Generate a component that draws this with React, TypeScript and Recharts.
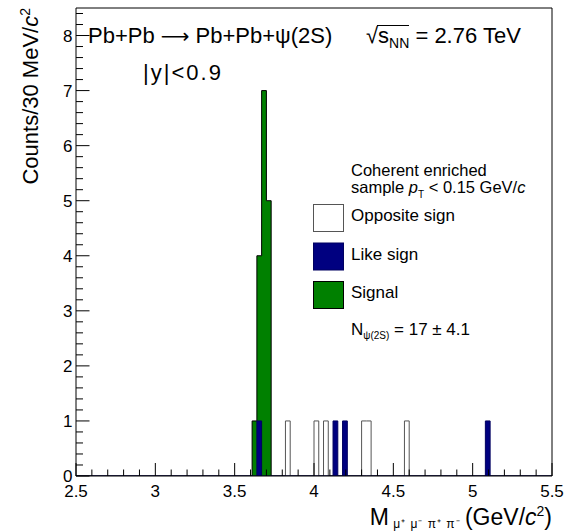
import React from "react";
import { ComposedChart, Area, XAxis, YAxis, ReferenceArea, Legend } from "recharts";

// histogram bins: lower edges (GeV/c^2), 30 MeV wide
const binWidth = 0.03;
const oppositeSignBins = [3.82, 4.0, 4.06, 4.3, 4.33, 4.57];
const oppositeSignCounts = [1, 1, 1, 1, 1, 1];
const likeSignBins = [3.64, 4.12, 4.18, 5.08];
const likeSignCounts = [1, 1, 1, 1];
const signalBins = [3.61, 3.64, 3.67, 3.7];
const signalCounts = [1, 4, 7, 5];

const xMajorTicks = [2.5, 3, 3.5, 4, 4.5, 5, 5.5];
const xTickLabels = ["2.5", "3", "3.5", "4", "4.5", "5", "5.5"];
const yMajorTicks = [0, 1, 2, 3, 4, 5, 6, 7, 8];
const yTickLabels = ["0", "1", "2", "3", "4", "5", "6", "7", "8"];

const X_MIN = 2.5;
const X_MAX = 5.5;
const Y_MAX = 8.5;

const FONT = "'Liberation Sans', Arial, Helvetica, sans-serif";

const round3 = (v: number) => Math.round(v * 1000) / 1000;

function countAt(bins: number[], counts: number[], x: number) {
  for (let i = 0; i < bins.length; i++) {
    const lo = round3(bins[i]);
    const hi = round3(bins[i] + binWidth);
    if (x >= lo - 1e-6 && x < hi - 1e-6) return counts[i];
  }
  return 0;
}

// step data: one point per bin edge, value holds until the next edge
const edgeSet = new Set<number>([X_MIN, X_MAX]);
[...oppositeSignBins, ...likeSignBins, ...signalBins].forEach((b) => {
  edgeSet.add(round3(b));
  edgeSet.add(round3(b + binWidth));
});
const edges = Array.from(edgeSet).sort((a, b) => a - b);
const histData = edges.map((x) => ({
  x,
  os: countAt(oppositeSignBins, oppositeSignCounts, x),
  sig: countAt(signalBins, signalCounts, x),
  ls: countAt(likeSignBins, likeSignCounts, x),
}));

// minor ticks every 0.1 on x, 0.2 on y
const xTicks: number[] = [];
for (let i = 0; i <= 30; i++) xTicks.push(round3(X_MIN + i * 0.1));
const yTicks: number[] = [];
for (let i = 0; i <= 42; i++) yTicks.push(round3(i * 0.2));

const XTick = (props: any) => {
  const { x, y, payload } = props;
  const idx = xMajorTicks.findIndex((t) => Math.abs(t - payload.value) < 1e-6);
  const major = idx >= 0;
  return (
    <g>
      <line x1={x} x2={x} y1={y} y2={y - (major ? 13 : 6.5)} stroke="#000" />
      {major && (
        <text x={x} y={y + 21} textAnchor="middle" fontSize={17} fontFamily={FONT} fill="#000">
          {xTickLabels[idx]}
        </text>
      )}
    </g>
  );
};

const YTick = (props: any) => {
  const { x, y, payload } = props;
  const idx = yMajorTicks.findIndex((t) => Math.abs(t - payload.value) < 1e-6);
  const major = idx >= 0;
  return (
    <g>
      <line x1={x} x2={x + (major ? 13.5 : 7)} y1={y} y2={y} stroke="#000" />
      {major && (
        <text x={x - 3.5} y={y + 6} textAnchor="end" fontSize={17} fontFamily={FONT} fill="#000">
          {yTickLabels[idx]}
        </text>
      )}
    </g>
  );
};

const legendItems = [
  { name: "Opposite sign", fill: "#ffffff", stroke: "#555" },
  { name: "Like sign", fill: "#000080", stroke: "#000060" },
  { name: "Signal", fill: "#008000", stroke: "#000" },
];

const renderLegend = () => (
  <svg width={240} height={200} style={{ display: "block", fontFamily: FONT }}>
    <text x={51} y={21} fontSize={16.5} fill="#000">Coherent enriched</text>
    <text x={51} y={38} fontSize={16.5} fill="#000">
      sample <tspan fontStyle="italic">p</tspan>
      <tspan fontSize={10} dy={5}>T</tspan>
      <tspan dy={-5}> &lt; 0.15 GeV/</tspan>
      <tspan fontStyle="italic">c</tspan>
    </text>
    {legendItems.map((it, i) => (
      <g key={it.name}>
        <rect x={13.5} y={49.5 + i * 38.5} width={30} height={27} fill={it.fill} stroke={it.stroke} />
        <text x={51} y={66 + i * 38.5} fontSize={17} fill="#000">{it.name}</text>
      </g>
    ))}
    <text x={51} y={180} fontSize={17} fill="#000">
      N<tspan fontSize={10} dy={4}>ψ(2S)</tspan>
      <tspan dy={-4}> = 17 ± 4.1</tspan>
    </text>
  </svg>
);

export default function App() {
  return (
    <div style={{ position: "absolute", left: 0, top: 0, background: "#fff" }}>
      <ComposedChart
        width={567}
        height={531}
        data={histData}
        margin={{ top: 8, right: 15, bottom: 0, left: 0 }}
        style={{ fontFamily: FONT }}
      >
        <XAxis
          dataKey="x"
          type="number"
          domain={[X_MIN, X_MAX]}
          ticks={xTicks}
          interval={0}
          allowDataOverflow
          height={55}
          tickSize={0}
          tickMargin={0}
          tickLine={false}
          axisLine={false}
          tick={XTick}
        />
        <YAxis
          type="number"
          domain={[0, Y_MAX]}
          ticks={yTicks}
          interval={0}
          allowDataOverflow
          width={76}
          tickSize={0}
          tickMargin={0}
          tickLine={false}
          axisLine={false}
          tick={YTick}
        />
        <Area
          type="stepAfter"
          dataKey="os"
          name="Opposite sign"
          fill="#ffffff"
          fillOpacity={1}
          stroke="#555"
          strokeWidth={1}
          dot={false}
          activeDot={false}
          isAnimationActive={false}
        />
        <Area
          type="stepAfter"
          dataKey="sig"
          name="Signal"
          fill="#008000"
          fillOpacity={1}
          stroke="#000"
          strokeWidth={1}
          dot={false}
          activeDot={false}
          isAnimationActive={false}
        />
        <Area
          type="stepAfter"
          dataKey="ls"
          name="Like sign"
          fill="#000080"
          fillOpacity={1}
          stroke="#000060"
          strokeWidth={1}
          dot={false}
          activeDot={false}
          isAnimationActive={false}
        />
        <ReferenceArea x1={X_MIN} x2={X_MAX} y1={0} y2={Y_MAX} fill="none" stroke="#000" strokeWidth={1} ifOverflow="visible" />
        <Legend
          layout="horizontal"
          verticalAlign="middle"
          align="center"
          content={renderLegend}
          wrapperStyle={{ position: "absolute", left: 300, top: 155, width: 240, height: 200 }}
        />
        <text x={88} y={43} fontSize={22} fontFamily={FONT} fill="#000">
          Pb+Pb <tspan fontFamily="'DejaVu Sans'" fontSize={20}>⟶</tspan> Pb+Pb+ψ(2S)
        </text>
        <text x={366} y={43} fontSize={22} fontFamily={FONT} fill="#000">
          √s<tspan fontSize={14} dy={5}>NN</tspan>
          <tspan dy={-5}> = 2.76 TeV</tspan>
        </text>
        <line x1={377} x2={409} y1={25.5} y2={25.5} stroke="#000" />
        <text x={143} y={80} fontSize={22} fontFamily={FONT} fill="#000" letterSpacing={2}>
          |y|&lt;0.9
        </text>
        <text transform="translate(38, 8) rotate(-90)" textAnchor="end" fontSize={22} fontFamily={FONT} fill="#000">
          Counts/30 MeV/<tspan fontStyle="italic">c</tspan>
          <tspan fontSize={14} dy={-8}>2</tspan>
        </text>
        <text x={552} y={525} textAnchor="end" fontSize={23} fontFamily={FONT} fill="#000">
          M<tspan fontSize={12} dy={3} letterSpacing={1}> μ⁺ μ⁻ π⁺ π⁻ </tspan>
          <tspan dy={-3}>(GeV/</tspan>
          <tspan fontStyle="italic">c</tspan>
          <tspan fontSize={14} dy={-9}>2</tspan>
          <tspan dy={9}>)</tspan>
        </text>
      </ComposedChart>
    </div>
  );
}
